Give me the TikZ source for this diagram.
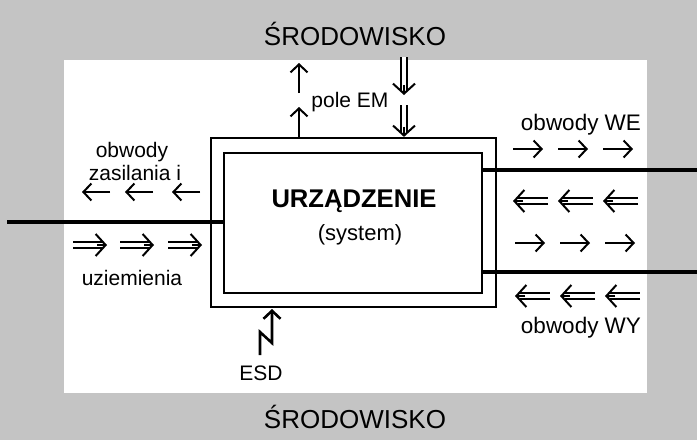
\documentclass[tikz,border=0pt]{standalone}
\usepackage{fontspec}
\setmainfont{Liberation Sans}
\usetikzlibrary{arrows.meta, positioning, calc}
\definecolor{stipple}{HTML}{C4C4C4}

\begin{document}
\begin{tikzpicture}[x=1pt, y=-1pt,
  wire/.style={line width=3.6pt},
  frame/.style={draw, line width=2.2pt, inner sep=0pt},
  arr/.style={line width=2pt, -{Straight Barb[length=8pt,width=17pt]}},
  dshaft/.style={double, double distance=3.8pt, line width=1.8pt, shorten >=4.5pt},
  dhead/.style={line width=2pt, -{Straight Barb[length=10pt,width=22pt]}},
  lbl/.style={font=\fontsize{21}{21}\selectfont, inner sep=0pt, anchor=base},
  env/.style={font=\fontsize{26}{26}\selectfont, inner sep=0pt, anchor=base}]
\useasboundingbox (0,0) rectangle (697,440);
\fill[stipple] (0,0) rectangle (697,440);
\fill[white] (64,60) rectangle (647,393);
% device
\node[frame, minimum width=285pt, minimum height=169pt] (outer) at (353.5,222.5) {};
\node[frame, minimum width=258pt, minimum height=140pt] (inner) at (353,223) {};
\node[font=\fontsize{25.6}{26}\selectfont\bfseries, inner sep=0pt, anchor=base] (dev) at (354,207) {URZĄDZENIE};
\node[font=\fontsize{22}{22}\selectfont, inner sep=0pt, anchor=base] (sys) at (360,240) {(system)};
% environment
\node[env] (envtop) at (355,45) {ŚRODOWISKO};
\node[env] (envbot) at (355,428) {ŚRODOWISKO};
% wires
\coordinate (wl) at (7,222);
\coordinate (wr1) at (697,170);
\coordinate (wr2) at (697,272);
\draw[wire] (wl) -- (wl -| inner.west);
\draw[wire] (wr1 -| inner.east) -- (wr1);
\draw[wire] (wr2 -| inner.east) -- (wr2);
% field EM
\coordinate (emout) at (299,107);
\coordinate (emin) at (404,105);
\draw[arr] (emout |- outer.north) -- (emout);
\draw[arr] (299,93) -- (299,63);
\draw[dshaft] (404,57) -- (404,95);
\draw[dhead] (404,85) -- (404,95);
\draw[dshaft] (emin) -- (emin |- outer.north);
\draw[dhead] ($(emin |- outer.north)+(0,-10)$) -- (emin |- outer.north);
\node[lbl] (em) at (350,107) {pole EM};
% power and earth
\node[lbl] (pw1) at (132,157) {obwody};
\node[lbl] (pw2) at (135,180) {zasilania i};
\node[lbl] (earth) at (132,285) {uziemienia};
\foreach \x in {82,125,172}
  \draw[arr] (\x+28,192) -- (\x,192);
\foreach \x in {73,120,168}{
  \draw[dshaft] (\x,245) -- (\x+34,245);
  \draw[dhead] (\x+24,245) -- (\x+34,245);
}
% signal circuits
\node[lbl, font=\fontsize{22.5}{22}\selectfont] (we) at (581,130) {obwody WE};
\node[lbl, font=\fontsize{22.5}{22}\selectfont] (wy) at (581,333) {obwody WY};
\foreach \x in {513,558,603}{
  \draw[arr] (\x,149) -- (\x+30,149);
  \draw[dshaft] (\x+35,201) -- (\x,201);
  \draw[dhead] (\x+10,201) -- (\x,201);
  \draw[arr] (\x+2,243) -- (\x+32,243);
  \draw[dshaft] (\x+37,296) -- (\x+2,296);
  \draw[dhead] (\x+12,296) -- (\x+2,296);
}
% ESD
\node[lbl] (esd) at (261,380) {ESD};
\coordinate (esdtip) at (272,309);
\draw[line width=2.6pt, line join=miter, -{Straight Barb[length=8pt,width=17pt]}]
  (260,355) -- (260,332) -- (272,343) -- (esdtip);
\end{tikzpicture}
\end{document}
